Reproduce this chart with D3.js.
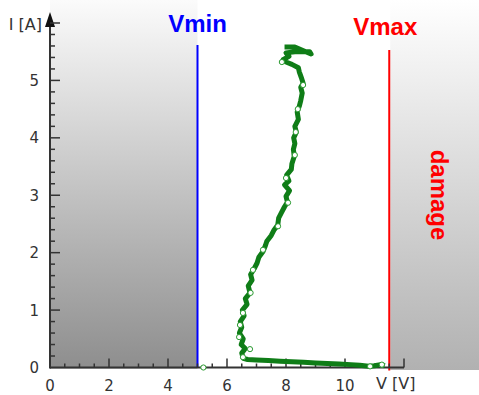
<!DOCTYPE html>
<html>
<head>
<meta charset="utf-8">
<script src="https://cdn.jsdelivr.net/npm/d3@7"></script>
<style>
    body { margin: 0; background: white; }
</style>
</head>
<body>
<div id="main"></div>
<script>
const width = 479, height = 395;

// measured curve, walking from the right end of the sweep back up to the top
const volts = [11.35, 11.2, 11.0, 10.8, 10.5, 10.2, 9.8, 9.4, 9.0, 8.6, 8.2, 7.8, 7.4, 7.0, 6.7, 6.55,
    6.5, 6.62, 6.48, 6.55, 6.42, 6.5, 6.45, 6.58, 6.52, 6.68, 6.62, 6.78, 6.72, 6.85, 6.8, 6.92,
    7.02, 7.08, 7.22, 7.3, 7.35, 7.5, 7.6, 7.72, 7.75, 7.85, 7.95, 8.05, 8.0, 8.12, 7.95, 8.1,
    8.02, 8.18, 8.2, 8.28, 8.25, 8.3, 8.26, 8.35, 8.3, 8.42, 8.38, 8.45, 8.5, 8.55, 8.5, 8.58,
    8.52, 8.45, 8.42, 8.2, 8.0, 7.9, 8.1, 8.0, 8.3, 8.8, 8.85, 8.3, 7.95];
const amps = [0.03, 0.05, 0.03, 0.02, 0.04, 0.05, 0.06, 0.07, 0.08, 0.09, 0.10, 0.11, 0.12, 0.13, 0.14, 0.16,
    0.25, 0.33, 0.40, 0.50, 0.60, 0.70, 0.80, 0.90, 1.0, 1.10, 1.2, 1.3, 1.42, 1.52, 1.62, 1.72,
    1.82, 1.92, 2.02, 2.12, 2.2, 2.3, 2.4, 2.48, 2.6, 2.7, 2.8, 2.88, 2.98, 3.08, 3.18, 3.25,
    3.35, 3.45, 3.55, 3.68, 3.8, 3.9, 4.0, 4.1, 4.2, 4.32, 4.45, 4.55, 4.65, 4.78, 4.88, 4.95,
    5.05, 5.15, 5.22, 5.28, 5.32, 5.36, 5.42, 5.48, 5.5, 5.5, 5.46, 5.58, 5.58];

// sample markers (open circles)
const markV = [5.2, 10.85, 11.25, 6.54, 6.78, 6.41, 6.44, 6.54, 6.8, 6.88, 7.22, 7.73, 8.07, 8.0, 8.3, 8.33, 8.4, 8.58, 7.86];
const markI = [0.0, 0.02, 0.05, 0.18, 0.32, 0.53, 0.74, 0.95, 1.3, 1.7, 2.05, 2.46, 2.87, 3.3, 3.7, 4.1, 4.5, 4.92, 5.32];

const vMin = 5, vMax = 11.5;
const xTickLabels = [0, 2, 4, 6, 8, 10];
const yTickLabels = [0, 1, 2, 3, 4, 5];

let svg = d3.select("#main").append("svg")
    .attr("width", width)
    .attr("height", height)
    .style("font-family", "'DejaVu Sans', sans-serif");

let x = d3.scaleLinear().domain([0, 12]).range([50, 404]);
let y = d3.scaleLinear().domain([0, 6]).range([367.5, 23]);

let defs = svg.append("defs");
function grad(id, top, bottom) {
    let g = defs.append("linearGradient").attr("id", id)
        .attr("x1", 0).attr("y1", 0).attr("x2", 0).attr("y2", 1);
    g.append("stop").attr("offset", "0%").attr("stop-color", top);
    g.append("stop").attr("offset", "100%").attr("stop-color", bottom);
}
grad("low", "#fbfbfb", "#8e8e8e");
grad("high", "#ffffff", "#b1b1b1");

// gray zones
svg.append("rect")
    .attr("x", x(0)).attr("y", 0)
    .attr("width", x(vMin) - x(0)).attr("height", y(0) + 1)
    .attr("fill", "url(#low)");
svg.append("rect")
    .attr("x", x(vMax) + 1).attr("y", 0)
    .attr("width", width - x(vMax)).attr("height", y(0) + 2.5)
    .attr("fill", "url(#high)");

// limit lines
svg.append("line")
    .attr("x1", x(vMin)).attr("x2", x(vMin))
    .attr("y1", 45).attr("y2", y(0))
    .attr("stroke", "#0000ff").attr("stroke-width", 2);
svg.append("line")
    .attr("x1", x(vMax)).attr("x2", x(vMax))
    .attr("y1", 50).attr("y2", y(0) + 3)
    .attr("stroke", "#ff0000").attr("stroke-width", 2);

svg.append("text")
    .attr("x", x(vMin)).attr("y", 32)
    .attr("text-anchor", "middle")
    .attr("fill", "#0000ff")
    .style("font", "bold 24px 'Liberation Sans', Arial, sans-serif")
    .text("Vmin");
svg.append("text")
    .attr("x", x(vMax) - 4).attr("y", 35)
    .attr("text-anchor", "middle")
    .attr("fill", "#ff0000")
    .style("font", "bold 24px 'Liberation Sans', Arial, sans-serif")
    .text("Vmax");
svg.append("text")
    .attr("transform", "translate(431,195) rotate(90)")
    .attr("text-anchor", "middle")
    .attr("fill", "#ff0000")
    .style("font", "bold 24px 'Liberation Sans', Arial, sans-serif")
    .text("damage");

// axes, ticks drawn inward
const axisColor = "#333";
svg.append("line")
    .attr("x1", x(0)).attr("x2", x(12))
    .attr("y1", y(0)).attr("y2", y(0))
    .attr("stroke", axisColor).attr("stroke-width", 2);
svg.append("line")
    .attr("x1", x(0)).attr("x2", x(0))
    .attr("y1", y(0) + 1).attr("y2", 20)
    .attr("stroke", axisColor).attr("stroke-width", 2);
svg.append("path")
    .attr("d", `M${x(0) - 5},${27}L${x(0)},${12}L${x(0) + 5},${27}Z`)
    .attr("fill", "#111");

svg.append("g").selectAll("line")
    .data(d3.range(0.5, 12.01, 0.5))
    .join("line")
    .attr("x1", d => x(d)).attr("x2", d => x(d))
    .attr("y1", y(0)).attr("y2", d => y(0) - (d % 2 === 0 ? 9 : 4))
    .attr("stroke", axisColor).attr("stroke-width", 1.5);

svg.append("g").selectAll("line")
    .data(d3.range(1, 31).map(i => i * 0.2))
    .join("line")
    .attr("x1", x(0)).attr("x2", d => x(0) + (Math.abs(d - Math.round(d)) < 1e-6 ? 10 : 5))
    .attr("y1", d => y(d)).attr("y2", d => y(d))
    .attr("stroke", axisColor).attr("stroke-width", 1.5);

svg.append("g").selectAll("text")
    .data(xTickLabels)
    .join("text")
    .attr("x", d => x(d)).attr("y", 391)
    .attr("text-anchor", "middle")
    .attr("fill", "#333")
    .style("font-size", "15px")
    .text(d => d);

svg.append("g").selectAll("text")
    .data(yTickLabels)
    .join("text")
    .attr("x", 39).attr("y", d => y(d) + 5.5)
    .attr("text-anchor", "end")
    .attr("fill", "#333")
    .style("font-size", "15px")
    .text(d => d);

svg.append("text")
    .attr("x", 42).attr("y", 30)
    .attr("text-anchor", "end")
    .attr("fill", "#333")
    .style("font-size", "16px")
    .text("I [A]");
svg.append("text")
    .attr("x", 376).attr("y", 389)
    .attr("fill", "#333")
    .style("font-size", "16px")
    .text("V [V]");

// the measured curve
const curve = volts.map((v, i) => [v, amps[i]]);
const line = d3.line().x(d => x(d[0])).y(d => y(d[1]));
svg.append("path")
    .datum(curve)
    .attr("d", line)
    .attr("fill", "none")
    .attr("stroke", "#0f7d17")
    .attr("stroke-width", 5)
    .attr("stroke-linejoin", "round");

svg.append("g").selectAll("circle")
    .data(markV.map((v, i) => [v, markI[i]]))
    .join("circle")
    .attr("cx", d => x(d[0])).attr("cy", d => y(d[1]))
    .attr("r", 2.6)
    .attr("fill", "white")
    .attr("stroke", "#2a9a30")
    .attr("stroke-width", 1);
</script>
</body>
</html>
